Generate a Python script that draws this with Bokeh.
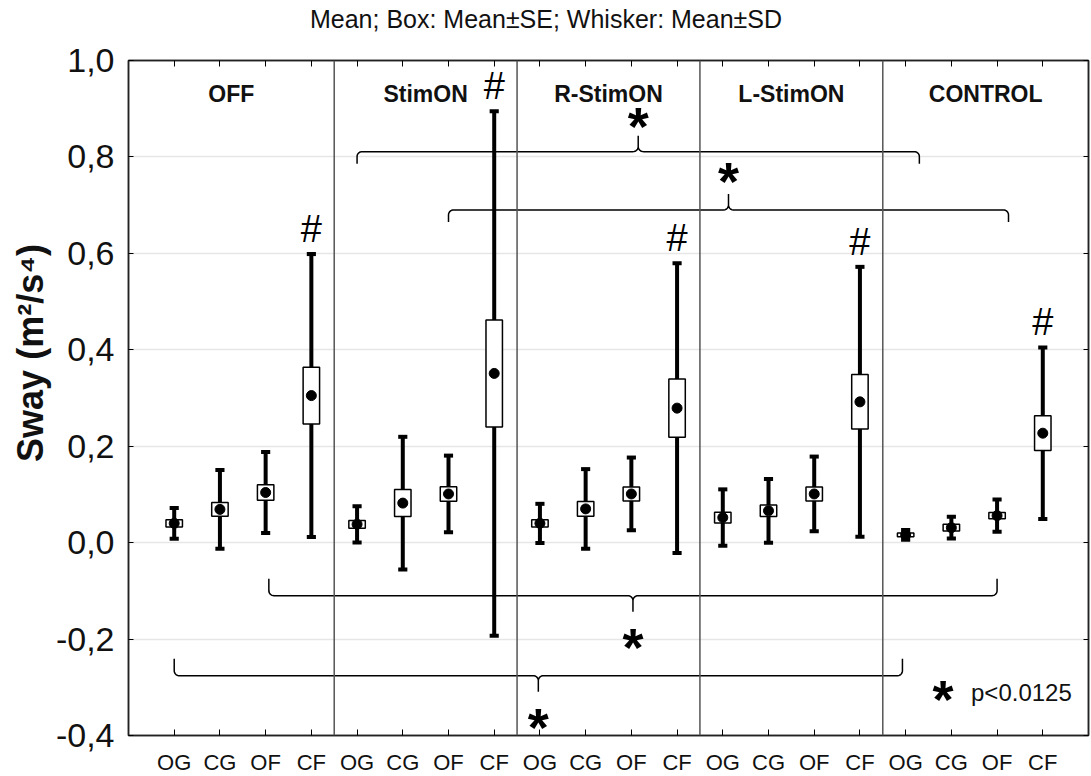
import numpy as np
from bokeh.plotting import figure
from bokeh.models import (Range1d, LinearAxis, FixedTicker, CustomJSTickFormatter,
                          Span, ColumnDataSource)
from bokeh.core.properties import value
from bokeh.embed import file_html
from bokeh.resources import INLINE

# ---------------- data ----------------
groups = ["OFF", "StimON", "R-StimON", "L-StimON", "CONTROL"]
conditions = ["OG", "CG", "OF", "CF"]

means = [0.040, 0.069, 0.104, 0.305,
         0.038, 0.082, 0.101, 0.351,
         0.040, 0.070, 0.101, 0.279,
         0.052, 0.066, 0.101, 0.292,
         0.016, 0.031, 0.056, 0.227]
se = [0.0075, 0.0145, 0.016, 0.059,
      0.008, 0.028, 0.015, 0.111,
      0.0075, 0.0155, 0.0145, 0.0605,
      0.011, 0.012, 0.0145, 0.0565,
      0.004, 0.007, 0.0065, 0.036]
sd = [0.032, 0.0815, 0.084, 0.2935,
      0.0375, 0.1375, 0.0795, 0.544,
      0.0405, 0.0825, 0.0755, 0.3005,
      0.0585, 0.066, 0.0775, 0.280,
      0.010, 0.0225, 0.0335, 0.178]
hash_marks = [3, 7, 11, 15, 19]          # categories marked '#'
# significance brackets: (first category, last category, level, direction)
brackets = [(4.0, 16.3, 0.811, 1),
            (6.0, 18.25, 0.690, 1),
            (2.07, 18.0, -0.110, -1),
            (0.0, 15.93, -0.276, -1)]
y_ticks = [-0.4, -0.2, 0.0, 0.2, 0.4, 0.6, 0.8, 1.0]
title_text = "Mean; Box: Mean\u00b1SE; Whisker: Mean\u00b1SD"
y_label = "Sway (m\u00b2/s\u2074)"
legend_text = "p<0.0125"

# ---------------- layout ----------------
X0, X1 = -1, 20
Y0, Y1 = -0.4, 1.0
FW, FH = 960, 675
BL, BR, BT, BB = 128, 3, 60, 41
XS = FW / (X1 - X0)      # px per x unit
YS = FH / (Y1 - Y0)      # px per y unit
FONT = "Liberation Sans"
NBSP = "\u00a0"

n = len(means)
xs = np.arange(n)
labels = conditions * len(groups)

p = figure(frame_width=FW, frame_height=FH,
           x_range=Range1d(X0, X1), y_range=Range1d(Y0, Y1),
           output_backend="svg", toolbar_location=None,
           min_border_left=BL, min_border_right=BR, min_border_top=BT, min_border_bottom=BB)
p.background_fill_color = "white"
p.outline_line_color = "#222222"
p.outline_line_width = 1.5

# axes
xa = p.xaxis[0]
xa.ticker = FixedTicker(ticks=list(range(n)))
xa.formatter = CustomJSTickFormatter(args=dict(labels=labels),
                                     code="return labels[Math.round(tick)] || '';")
xa.major_tick_in = 6
xa.major_tick_out = 0
xa.minor_tick_line_color = None
xa.major_label_text_font = FONT
xa.major_label_text_font_size = "22px"
xa.major_label_text_color = "#111111"
xa.major_label_standoff = 14
xa.axis_line_color = "#222222"
xa.axis_line_width = 1.5

ya = p.yaxis[0]
ya.ticker = FixedTicker(ticks=y_ticks)
ya.formatter = CustomJSTickFormatter(code="return tick.toFixed(1).replace('.', ',');")
ya.major_tick_in = 5
ya.major_tick_out = 0
ya.minor_tick_line_color = None
ya.major_label_text_font = FONT
ya.major_label_text_font_size = "34px"
ya.major_label_text_color = "#111111"
ya.major_label_standoff = 14
ya.axis_label = NBSP * 9 + y_label
ya.axis_label_text_font = FONT
ya.axis_label_text_font_size = "36px"
ya.axis_label_text_font_style = "bold"
ya.axis_label_text_color = "#111111"
ya.axis_label_standoff = 2
ya.axis_line_color = "#222222"
ya.axis_line_width = 1.5

blank = CustomJSTickFormatter(code="return '';")
# top axis: inner ticks, carries the chart title (shifted to sit centred on the page)
top = LinearAxis(ticker=FixedTicker(ticks=list(range(n))), formatter=blank,
                 major_tick_in=6, major_tick_out=0, minor_tick_line_color=None,
                 major_label_text_font_size="0px", major_label_standoff=0,
                 axis_line_color="#222222", axis_line_width=1.5,
                 axis_label=title_text + NBSP * 18, axis_label_standoff=28,
                 axis_label_text_font=FONT, axis_label_text_font_size="25px",
                 axis_label_text_font_style="normal", axis_label_text_color="#111111")
right = LinearAxis(ticker=FixedTicker(ticks=y_ticks), formatter=blank,
                   major_tick_in=5, major_tick_out=0, minor_tick_line_color=None,
                   major_label_text_font_size="0px", major_label_standoff=0,
                   axis_line_color="#222222", axis_line_width=1.5)
p.add_layout(top, "above")
p.add_layout(right, "right")

p.xgrid.grid_line_color = None
p.ygrid.ticker = FixedTicker(ticks=y_ticks)
p.ygrid.grid_line_color = "#e6e6e6"
p.ygrid.grid_line_width = 1.5

# group separators and labels
k = len(conditions)
seps = [k * g - 0.5 for g in range(1, len(groups))]
for s in seps:
    p.add_layout(Span(location=s, dimension="height", line_color="#555555", line_width=1.5))
bounds = [X0] + seps + [X1]
gcent = [(bounds[i] + bounds[i + 1]) / 2 for i in range(len(groups))]
p.text(x=gcent, y=[0.93] * len(groups), text=groups, text_font=value(FONT),
       text_font_size="23px", text_font_style="bold", text_align="center",
       text_baseline="middle", text_color="#111111")

# box-whisker elements
src = ColumnDataSource(dict(
    x=xs, m=means,
    lo_sd=[m - s for m, s in zip(means, sd)], hi_sd=[m + s for m, s in zip(means, sd)],
    lo_se=[m - s for m, s in zip(means, se)], hi_se=[m + s for m, s in zip(means, se)],
    cl=xs - 0.1, cr=xs + 0.1, bl=xs - 0.18, br=xs + 0.18))
p.segment(x0="x", y0="lo_sd", x1="x", y1="hi_sd", source=src, line_color="black",
          line_width=4)
p.segment(x0="cl", y0="hi_sd", x1="cr", y1="hi_sd", source=src, line_color="black",
          line_width=4)
p.segment(x0="cl", y0="lo_sd", x1="cr", y1="lo_sd", source=src, line_color="black",
          line_width=4)
p.quad(left="bl", right="br", bottom="lo_se", top="hi_se", source=src,
       fill_color="white", line_color="black", line_width=1.5)
p.scatter(x="x", y="m", source=src, size=10, color="black")

# '#' marks above whiskers
p.text(x=[xs[i] for i in hash_marks], y=[means[i] + sd[i] for i in hash_marks],
       text=["#"] * len(hash_marks), text_font=value(FONT), text_font_size="38px",
       text_align="center", text_baseline="alphabetic", y_offset=-25,
       text_color="black")

# brackets
def arc(cx, cy, r, t0, t1, d, npts=10):
    t = np.linspace(t0, t1, npts)
    return list(cx + r * np.cos(t)), list(cy + d * r * np.sin(t))

star_x, star_y, star_off = [], [], []
for (a, b, lvl, d) in brackets:
    hh = 12 if d > 0 else 17       # hook length px
    hc = 16                        # cusp length px
    r = 5.0
    xa_ = a * XS
    xb_ = b * XS
    xc_ = (xa_ + xb_) / 2
    yl = lvl * YS
    px, py = [xa_], [yl - d * hh]
    ax_, ay_ = arc(xa_ + r, yl - d * r, r, np.pi, np.pi / 2, d)
    px += ax_; py += ay_
    ax_, ay_ = arc(xc_ - r, yl + d * r, r, -np.pi / 2, 0, d)
    px += ax_; py += ay_
    px += [xc_, xc_]; py += [yl + d * hc, yl + d * r]
    ax_, ay_ = arc(xc_ + r, yl + d * r, r, np.pi, 3 * np.pi / 2, d)
    px += ax_; py += ay_
    ax_, ay_ = arc(xb_ - r, yl - d * r, r, np.pi / 2, 0, d)
    px += ax_; py += ay_
    px += [xb_]; py += [yl - d * hh]
    p.line(x=[v / XS for v in px], y=[v / YS for v in py], line_color="black",
           line_width=1.5)
    star_x.append(xc_ / XS)
    star_y.append(lvl)
    star_off.append(-35 if d > 0 else 42)

STAR_FS = 54
corr = 9
star_off[1] = -38
p.text(x=star_x, y=star_y, text=["*"] * len(star_x),
       y_offset=[o + corr for o in star_off], text_font=value(FONT),
       text_font_size=f"{STAR_FS}px", text_font_style="bold", text_align="center",
       text_baseline="alphabetic", text_color="black")

# legend
p.text(x=[16.82], y=[-0.311], text=["*"], y_offset=corr - 3, text_font=value(FONT),
       text_font_size=f"{STAR_FS}px", text_font_style="bold", text_align="center",
       text_baseline="alphabetic", text_color="black")
p.text(x=[17.43], y=[-0.311], text=[legend_text], text_font=value(FONT),
       text_font_size="24px", text_align="left", text_baseline="middle",
       text_color="#111111")

open("out.html", "w").write(file_html(p, INLINE))
